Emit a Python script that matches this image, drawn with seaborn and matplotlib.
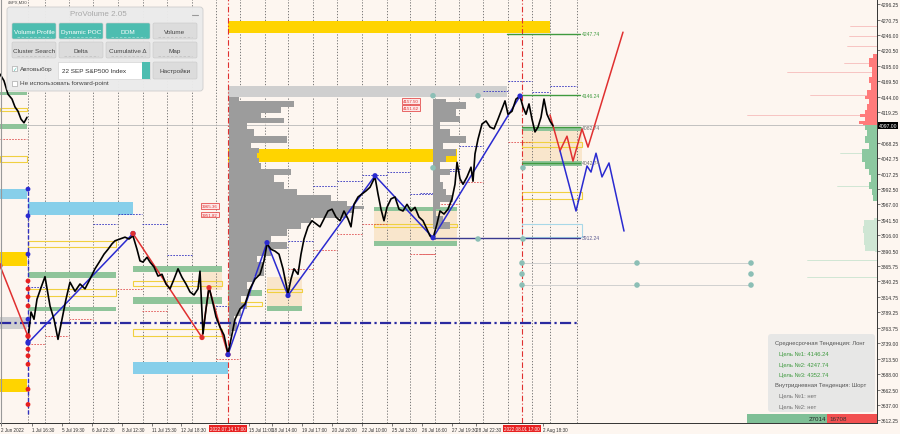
import numpy as np
import matplotlib
matplotlib.use("Agg")
import matplotlib.pyplot as plt
from matplotlib.patches import Rectangle, FancyBboxPatch
import seaborn as sns

# ---------------- data (bar index / price) ----------------
pre_x = [0, 4, 8, 12, 15, 18, 21, 24, 27]
pre_y = [4181, 4170, 4148, 4140, 4127, 4120, 4107, 4101, 4110]

price_x = [28, 31, 34, 37, 41, 45, 50, 54, 58, 62, 66, 70, 75, 80, 85, 90, 95, 100, 104, 108,
           112, 115, 120, 125, 129, 133, 137, 140, 143, 147, 150, 154, 158, 162, 166, 170, 174,
           178, 182, 186, 190, 194, 198, 200, 203, 206, 209, 212, 216, 220, 224, 228, 232, 235,
           240, 245, 250, 255, 260, 264, 267, 271, 275, 279, 283, 286, 288, 291, 294, 298, 301,
           304, 308, 312, 316, 320, 324, 328, 332, 336, 340, 344, 348, 351, 354, 358, 362, 366,
           370, 375, 378, 381, 384, 387, 391, 395, 399, 403, 407, 411, 415, 419, 423, 427, 430,
           433, 437, 440, 444, 448, 452, 455, 457, 460, 463, 467, 471, 473, 475, 478, 482, 486,
           490, 494, 498, 502, 505, 508, 512, 516, 520, 523, 526, 529, 532, 535, 538, 541, 544,
           547, 550, 553]
price_y = [3745, 3790, 3778, 3811, 3830, 3848, 3800, 3778, 3745, 3778, 3811, 3839, 3824, 3836,
           3828, 3844, 3861, 3874, 3885, 3893, 3902, 3907, 3910, 3913, 3910, 3915, 3893, 3874,
           3872, 3880, 3872, 3864, 3849, 3852, 3836, 3828, 3844, 3861, 3847, 3836, 3823, 3818,
           3828, 3857, 3754, 3795, 3831, 3811, 3782, 3765, 3752, 3721, 3754, 3778, 3795, 3803,
           3828, 3844, 3852, 3874, 3902, 3893, 3890, 3885, 3861, 3836, 3820, 3844, 3861, 3852,
           3885, 3910, 3930, 3940, 3935, 3930, 3943, 3956, 3959, 3946, 3940, 3956, 3943, 3930,
           3967, 3979, 3984, 3989, 3995, 4012, 3984, 3959, 3940, 3962, 3976, 3979, 3959, 3956,
           3967, 3956, 3962, 3946, 3940, 3926, 3915, 3911, 3935, 3956, 3951, 3959, 3976, 4000,
           4036, 4009, 4000, 4012, 4028, 4005, 4050, 4074, 4099, 4104, 4094, 4091, 4107, 4124,
           4137, 4115, 4120, 4140, 4145, 4127, 4115, 4132, 4107, 4086, 4094, 4110, 4140, 4115,
           4104, 4096]

# zigzag swings
red_left_x = [0, 28]
red_left_y = [3866, 3750]
blue_wave_x = [28, 133]
blue_wave_y = [3739, 3919]
red_wave_x = [133, 202, 209, 228]
red_wave_y = [3919, 3748, 3830, 3720]
blue_wave2_x = [228, 267, 288, 375, 433, 520]
blue_wave2_y = [3720, 3904, 3817, 4014, 3912, 4145]

# forecast paths
red_fc_x = [550, 560, 567, 573, 582, 588, 623]
red_fc_y = [4114, 4055, 4079, 4038, 4091, 4061, 4250]
blue_fc_x = [560, 576, 587, 591, 596, 602, 609, 624]
blue_fc_y = [4055, 3956, 4030, 4020, 4051, 4012, 4035, 3923]

# signal dots on the vertical line at bar 28
sig_blue = [3992, 3948, 3885, 3778, 3741]
sig_red = [3841, 3828, 3815, 3800, 3751, 3729, 3718, 3704, 3663, 3638]

# volume profile 14 Jul (price, width in bars)
prof_p = [4143, 4132, 4121, 4113, 4105, 4096, 4085, 4072, 4063, 4055, 4047, 4039, 4031, 4020,
          4009, 3998, 3987, 3976, 3968, 3962, 3957, 3948, 3940, 3932, 3921, 3910, 3899, 3888,
          3877, 3866, 3855, 3844, 3833, 3822, 3811, 3800, 3789, 3778, 3767, 3751]
prof_w = [10, 65, 52, 32, 55, 18, 25, 58, 22, 30, 28, 30, 32, 62, 45, 55, 68, 102, 118, 135,
          125, 118, 82, 72, 58, 42, 58, 42, 28, 35, 35, 25, 18, 22, 12, 18, 12, 5, 8, 2]

# volume profile 26 Jul
prof2_p = [4140, 4129, 4118, 4107, 4096, 4085, 4074, 4063, 4052, 4042, 4031, 4020, 4009, 3998,
           3987, 3976, 3965, 3954, 3943, 3932, 3921]
prof2_w = [13, 33, 23, 27, 7, 17, 33, 10, 23, 13, 7, 17, 7, 10, 13, 20, 7, 3, 10, 17, 0]

# right-edge DOM profile
ask_p = [4214, 4200, 4184, 4170, 4162, 4148, 4143, 4137, 4126, 4118, 4113, 4107, 4102, 4097]
ask_w = [4, 8, 5, 8, 6, 10, 12, 8, 10, 12, 17, 12, 18, 14]
bid_p = [4097, 4094, 4085, 4074, 4063, 4053, 4042, 4031, 4020, 4009, 3998, 3987, 3976, 3968]
bid_w = [12, 12, 10, 12, 8, 15, 15, 12, 8, 6, 8, 5, 4, 0]
bid2_p = [3945, 3937, 3926, 3915, 3905, 3894, 3888]
bid2_w = [3, 13, 14, 13, 13, 12, 2]
ask_lines = [(4260, 27), (4243, 28), (4227, 30), (4199, 33), (4184, 90), (4147, 67), (4113, 130)]
bid_lines = [(4052, 37), (3997, 40), (3876, 70), (3848, 70)]

# zones: (bar from, bar to, price low, price high)
gold_zones = [(228, 550, 4249, 4268), (228, 457, 4037, 4058), (0, 27, 3866, 3889),
              (0, 27, 3658, 3680)]
grey_zones = [(228, 507, 4143, 4161), (0, 27, 3762, 3782)]
sky_zones = [(0, 27, 3976, 3992), (28, 133, 3949, 3971), (133, 228, 3688, 3708),
             (280, 310, 3936, 3946)]
green_zones = [(0, 27, 4147, 4152), (0, 27, 4091, 4099), (28, 116, 3846, 3856),
               (28, 116, 3792, 3798), (133, 222, 3856, 3866), (133, 222, 3803, 3815),
               (228, 262, 3816, 3826), (267, 302, 3792, 3800), (374, 457, 3956, 3963),
               (374, 457, 3898, 3907), (522, 582, 4088, 4094), (522, 582, 4030, 4038)]
tan_zones = [(522, 582, 4038, 4088), (374, 457, 3907, 3956), (267, 302, 3800, 3848),
             (200, 222, 3826, 3856)]
yellow_boxes = [(0, 27, 4121, 4126), (0, 27, 4036, 4047), (28, 116, 3896, 3907),
                (28, 116, 3817, 3828), (133, 222, 3833, 3841), (133, 222, 3751, 3762),
                (522, 582, 4061, 4069), (522, 582, 3976, 3987), (374, 457, 3930, 3935),
                (267, 302, 3823, 3828), (228, 262, 3800, 3806)]
sky_boxes = [(522, 582, 3913, 3935)]

# short dotted levels: (bar from, bar to, price)
navy_dots = [(118, 142, 3951), (93, 117, 3935), (142, 167, 3935), (167, 192, 3884),
             (28, 45, 3831), (216, 240, 3800), (313, 337, 3997), (337, 362, 4005),
             (362, 387, 4015), (387, 410, 4020), (410, 435, 3984), (288, 313, 3907),
             (265, 288, 3897), (435, 460, 4025), (508, 532, 4170), (483, 508, 4153),
             (532, 550, 4152), (550, 577, 4162), (459, 483, 4063), (435, 459, 4022),
             (420, 435, 3986)]
red_dots = [(0, 27, 4074), (117, 142, 3828), (69, 93, 3778), (45, 69, 3751), (28, 45, 3737),
            (142, 167, 3792), (216, 240, 3713), (313, 337, 3892), (337, 362, 3918),
            (362, 387, 3935), (410, 435, 3885), (288, 313, 3861), (508, 532, 4069),
            (459, 483, 4004), (435, 459, 3968), (420, 435, 3885)]

# target levels
targets = [(507, 4247.74, "4247.74", "#3f9a3f"), (522, 4146.24, "4146.24", "#3f9a3f"),
           (522, 4094, "4082.74", "#707070"), (522, 4035, "4042.74", "#707070")]
support_level = 3912.24
navy_level = 3772
last_price = 4097.00

teal_pts_x = [522, 522, 522, 637, 637, 751, 751, 751, 433, 478, 433, 523, 478, 523]
teal_pts_y = [3870.5, 3852.4, 3834.3, 3870.5, 3834.3, 3870.5, 3852.4, 3834.3,
              4145.5, 4145.5, 4027, 4027, 3910, 3910]

day_lines = [28, 45, 69, 93, 118, 143, 167, 192, 216, 240, 265, 288, 313, 337, 362, 387,
             410, 435, 459, 483, 508, 532, 550, 577]
session_marks = [228, 522]
session_labels = ["2022.07.14 17:00", "2022.08.01 17:00"]

xtick_pos = [1, 32, 62, 92, 122, 152, 181, 249, 272, 302, 332, 362, 392, 422, 452, 476, 543]
xtick_lab = ["2 Jun 2022", "1 Jul 16:30", "5 Jul 19:30", "6 Jul 22:30", "8 Jul 12:30",
             "11 Jul 15:30", "12 Jul 18:30", "15 Jul 11:00", "18 Jul 14:00", "19 Jul 17:00",
             "20 Jul 20:00", "22 Jul 10:00", "25 Jul 13:00", "26 Jul 16:00", "27 Jul 19:30",
             "28 Jul 22:30", "2 Aug 18:30"]
ytick_val = [4296.25, 4270.75, 4246.00, 4220.50, 4195.00, 4169.50, 4144.00, 4119.25,
             4068.25, 4042.75, 4017.25, 3992.50, 3967.00, 3941.50, 3916.00, 3890.50,
             3865.75, 3840.25, 3814.75, 3789.25, 3763.75, 3739.00, 3713.50, 3688.00,
             3662.50, 3637.00, 3612.25]

info_lines = [("Среднесрочная Тенденция: Лонг", "#555555", 0),
              ("Цель №1: 4146.24", "#3f9a3f", 1), ("Цель №2: 4247.74", "#3f9a3f", 1),
              ("Цель №3: 4352.74", "#3f9a3f", 1),
              ("Внутридневная Тенденция: Шорт", "#555555", 0),
              ("Цель №1: нет", "#707070", 1), ("Цель №2: нет", "#707070", 1)]
buy_vol, sell_vol = 27014, 16708

# ---------------- drawing ----------------
BG = "#fdf6f0"
sns.set_style("ticks", {"axes.facecolor": BG, "figure.facecolor": BG})
plt.rcParams["font.family"] = ["Liberation Sans", "DejaVu Sans"]

fig = plt.figure(figsize=(9, 4.35), dpi=100)
ax = fig.add_axes([0.0, 11 / 435, 877 / 900, 424 / 435])
ax.set_xlim(0, 877)
ax.set_ylim(3607.5, 4304.5)

def zone(lst, **kw):
    for x0, x1, p0, p1 in lst:
        ax.add_patch(Rectangle((x0, p0), x1 - x0, p1 - p0, **kw))

zone(tan_zones, fc="#f9e3c3", ec="none", alpha=0.8, zorder=1)
zone(gold_zones, fc="#ffd400", ec="none", zorder=2)
zone(grey_zones, fc="#cfcfcf", ec="none", zorder=2)
zone(sky_zones, fc="#87cfea", ec="none", zorder=2)
zone(green_zones, fc="#8fc49a", ec="none", zorder=2)
zone(yellow_boxes, fc="none", ec="#f0d040", lw=0.8, zorder=2)
zone(sky_boxes, fc="none", ec="#a8d8e8", lw=0.8, zorder=2)

for x in day_lines:
    ax.axvline(x, color="#666666", lw=0.6, ls=(0, (1.5, 2)), zorder=1.5)
for x in session_marks:
    ax.axvline(x, color="#e03030", lw=0.8, ls=(0, (5, 2, 1, 2)), zorder=3)

for x0, x1, p in navy_dots:
    ax.plot([x0, x1], [p, p], color="#3030c0", lw=0.6, ls=(0, (2, 1.5)), zorder=2.5)
for x0, x1, p in red_dots:
    ax.plot([x0, x1], [p, p], color="#e05050", lw=0.6, ls=(0, (2, 1.5)), zorder=2.5)

# volume profiles (histogram steps)
ax.fill_betweenx(prof_p, 229, 229 + np.array(prof_w), color="#9c9c9c", lw=0, zorder=2.6,
                 step="mid")
ax.fill_betweenx(prof2_p, 433, 433 + np.array(prof2_w), color="#9c9c9c", lw=0, zorder=2.6,
                 step="mid")
ax.fill_betweenx(ask_p, 877 - np.array(ask_w), 877, color="#ff7b7b", lw=0, zorder=2,
                 step="mid")
ax.fill_betweenx(bid_p, 877 - np.array(bid_w), 877, color="#8cc8a0", lw=0, zorder=2,
                 step="mid")
ax.fill_betweenx(bid2_p, 877 - np.array(bid2_w), 877, color="#cfe6d4", lw=0, zorder=2,
                 step="mid")
for p, w in ask_lines:
    ax.plot([877 - w, 877], [p, p], color="#f5b0b0", lw=0.5, zorder=1.8)
for p, w in bid_lines:
    ax.plot([877 - w, 877], [p, p], color="#bfe0c8", lw=0.5, zorder=1.8)

# levels
ax.axhline(last_price, color="#b8b8b8", lw=0.6, zorder=1.6)
ax.plot([0, 580], [navy_level, navy_level], color="#2a2aa0", lw=1.6,
        ls=(0, (5, 1.5, 1, 1.5)), zorder=3)
ax.plot([433, 580], [support_level, support_level], color="#3a3a90", lw=1.0, zorder=3)
ax.text(582, support_level, "3912.24", fontsize=3.6, color="#5a5a90", va="center", zorder=6)
for x0, p, lab, col in targets:
    ax.plot([x0, 580], [p, p], color="#3f9a3f", lw=1.0, zorder=3)
    ax.text(582, p, lab, fontsize=3.6, color=col, va="center", zorder=6)
ax.plot([28, 28], [3622, 3992], color="#3030c0", lw=1.0, ls=(0, (3, 1.5)), zorder=3)

# teal markers
ax.plot([522, 751], [3870.5, 3870.5], color="#d0d0d0", lw=0.7, zorder=2)
ax.plot([522, 751], [3834.3, 3834.3], color="#d0d0d0", lw=0.7, zorder=2)
sns.scatterplot(x=teal_pts_x, y=teal_pts_y, color="#8cbfb6", s=16, edgecolor="none",
                ax=ax, zorder=4, legend=False)

# price
sns.lineplot(x=pre_x, y=pre_y, color="black", lw=1.2, sort=False, estimator=None, ax=ax,
             zorder=5)
sns.lineplot(x=price_x, y=price_y, color="black", lw=1.2, sort=False, estimator=None, ax=ax,
             zorder=5)

# zigzags
for xs, ys, col in [(red_left_x, red_left_y, "#e03030"), (blue_wave_x, blue_wave_y, "#2a2ad0"),
                    (red_wave_x, red_wave_y, "#e03030"), (blue_wave2_x, blue_wave2_y, "#2a2ad0")]:
    sns.lineplot(x=xs, y=ys, color=col, lw=1.1, sort=False, estimator=None, ax=ax, zorder=4)
    sns.scatterplot(x=xs, y=ys, color=col, s=14, edgecolor="none", ax=ax, zorder=6,
                    legend=False)
sns.lineplot(x=red_fc_x, y=red_fc_y, color="#e03030", lw=1.1, sort=False, estimator=None,
             ax=ax, zorder=4)
sns.lineplot(x=blue_fc_x, y=blue_fc_y, color="#2a2ad0", lw=1.1, sort=False, estimator=None,
             ax=ax, zorder=4)
sns.scatterplot(x=[28] * len(sig_blue), y=sig_blue, color="#2a2ad0", s=12, edgecolor="none",
                ax=ax, zorder=6, legend=False)
sns.scatterplot(x=[28] * len(sig_red), y=sig_red, color="#e82020", s=12, edgecolor="none",
                ax=ax, zorder=6, legend=False)

# small red price tags
for x, p, lab in [(403, 4137, "4157.50"), (403, 4125, "4151.62"), (202, 3964, "3965.36"),
                  (202, 3950, "3951.82")]:
    ax.text(x, p, lab, fontsize=3.2, color="#e03030", va="center", zorder=7,
            bbox=dict(fc="#fde8e8", ec="#e03030", lw=0.5, pad=0.6))

# axes styling
ax.set_xlabel("")
ax.set_ylabel("")
ax.yaxis.tick_right()
ax.set_yticks(ytick_val)
ax.set_yticklabels([f"{v:.2f}" for v in ytick_val], fontsize=3.6, color="#333333")
ax.set_xticks(xtick_pos)
ax.set_xticklabels(xtick_lab, fontsize=3.3, color="#333333", ha="left")
ax.tick_params(axis="both", length=2, width=0.5, pad=1, color="#444444")
for s in ["top", "left"]:
    ax.spines[s].set_visible(False)
for s in ["right", "bottom"]:
    ax.spines[s].set_color("#333333")
    ax.spines[s].set_linewidth(0.7)

# ---------------- overlay (pixel coordinates) ----------------
ov = fig.add_axes([0, 0, 1, 1])
ov.set_xlim(0, 900)
ov.set_ylim(435, 0)
ov.axis("off")
ov.patch.set_alpha(0)

ov.plot([0.5, 0.5], [0, 424], color="#999999", lw=0.8)
ov.text(8, 3, "#SPX,M30", fontsize=3, color="#444444", va="center")

for xp, lab in zip(session_marks, session_labels):
    ov.text(xp, 429.5, lab, fontsize=3.3, color="white", ha="center", va="center",
            bbox=dict(fc="#e82020", ec="none", pad=0.6))
ov.text(878.5, 126.5, f"{last_price:.2f}", fontsize=3.6, color="white", va="center",
        bbox=dict(fc="black", ec="none", pad=0.6))

# trend panel
ov.add_patch(FancyBboxPatch((768, 335), 107, 78, boxstyle="round,pad=0,rounding_size=3",
                            fc="#e6e6e6", ec="none", alpha=0.92))
yy = 344
for txt, col, ind in info_lines:
    ov.text(775 + 4 * ind, yy, txt, fontsize=4.2, color=col, va="center")
    yy += 10.5
ov.add_patch(Rectangle((747, 415), 80, 9, fc="#7fbf96", ec="none"))
ov.add_patch(Rectangle((827, 415), 50, 9, fc="#f25050", ec="none"))
ov.text(826, 419.5, str(buy_vol), fontsize=4.5, color="#222222", ha="right", va="center")
ov.text(829, 419.5, str(sell_vol), fontsize=4.5, color="#333333", ha="left", va="center")

# ProVolume panel
ov.add_patch(FancyBboxPatch((7, 8), 196, 84, boxstyle="round,pad=0,rounding_size=3",
                            fc="#ebebeb", ec="#cccccc", lw=0.6, alpha=0.97))
ov.text(98, 14.5, "ProVolume 2.05", fontsize=5.8, color="#a8a8a8", ha="center", va="center")
ov.plot([192, 198], [16, 16], color="#999999", lw=0.8)
buttons = [("Volume Profile", 12, 24, True), ("Dynamic POC", 59, 24, True),
           ("DOM", 106, 24, True), ("Volume", 153, 24, False),
           ("Cluster Search", 12, 43, False), ("Delta", 59, 43, False),
           ("Cumulative Δ", 106, 43, False), ("Map", 153, 43, False)]
for lab, bx, by, on in buttons:
    ov.add_patch(FancyBboxPatch((bx, by), 44, 16, boxstyle="round,pad=0,rounding_size=1.5",
                                fc="#4dbdb0" if on else "#dcdcdc", ec="#c8c8c8", lw=0.4))
    ov.text(bx + 22, by + 8.5, lab, fontsize=4.6, color="white" if on else "#444444",
            ha="center", va="center")
    ov.plot([bx + 5, bx + 39], [by + 14, by + 14], color="#9ad8d0" if on else "#c4c4c4",
            lw=0.6, ls=(0, (3, 2)))
ov.add_patch(Rectangle((12, 67), 5, 5, fc="white", ec="#999999", lw=0.4))
ov.text(12.5, 69.5, "✓", fontsize=4, color="#4dbdb0", va="center")
ov.text(20, 70, "Автовыбор", fontsize=4.6, color="#444444", va="center")
ov.add_patch(Rectangle((58, 63), 92, 17, fc="white", ec="#cccccc", lw=0.4))
ov.add_patch(Rectangle((142, 63), 8, 17, fc="#4dbdb0", ec="none"))
ov.text(62, 71.5, "22 SEP S&P500 Index", fontsize=4.6, color="#333333", va="center")
ov.add_patch(FancyBboxPatch((153, 63), 44, 17, boxstyle="round,pad=0,rounding_size=1.5",
                            fc="#dcdcdc", ec="#c8c8c8", lw=0.4))
ov.text(175, 71.5, "Настройки", fontsize=4.6, color="#444444", ha="center", va="center")
ov.add_patch(Rectangle((12, 81.5), 5, 5, fc="white", ec="#999999", lw=0.4))
ov.text(20, 84, "Не использовать forward-point", fontsize=4.6, color="#444444", va="center")

fig.savefig("out.png", dpi=100, facecolor=BG)
